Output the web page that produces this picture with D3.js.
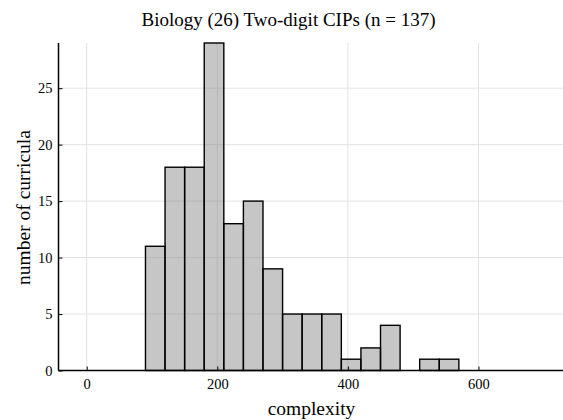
<!DOCTYPE html>
<html><head><meta charset="utf-8">
<script src="https://cdn.jsdelivr.net/npm/d3@7"></script>
<style>body{margin:0;background:#fff}svg{display:block}text{font-family:"Liberation Serif","DejaVu Serif",serif;fill:#000}</style>
</head><body><svg id="c" width="563" height="420"></svg>
<script>
const binWidth = 30;
const binStarts = [0,30,60,90,120,150,180,210,240,270,300,330,360,390,420,450,480,510,540,570,600,630,660];
const counts =    [0,0,0,11,18,18,29,13,15,9,5,5,5,1,2,4,0,1,1,0,0,0,0];
const xTicks = [0,200,400,600];
const yTicks = [0,5,10,15,20,25];
const title = "Biology (26) Two-digit CIPs (n = 137)";
const xLabel = "complexity";
const yLabel = "number of curricula";

const svg = d3.select("#c");
const L = 58.5, R = 563, T = 43, B = 370.5;
const x = d3.scaleLinear().domain([-43.2, 729.5]).range([L, R]);
const y = d3.scaleLinear().domain([0, 29]).range([B, T]);

// grid
svg.append("g").selectAll("line").data(xTicks).join("line")
  .attr("x1", d=>x(d)).attr("x2", d=>x(d)).attr("y1", T).attr("y2", B)
  .attr("stroke", "#e3e3e3").attr("stroke-width", 1);
svg.append("g").selectAll("line").data(yTicks.filter(d=>d>0)).join("line")
  .attr("x1", L).attr("x2", R).attr("y1", d=>y(d)).attr("y2", d=>y(d))
  .attr("stroke", "#e3e3e3").attr("stroke-width", 1);

// bars
svg.append("g").selectAll("rect").data(binStarts.map((s,i)=>({s, c:counts[i]}))).join("rect")
  .attr("x", d=>x(d.s)).attr("width", d=>x(d.s+binWidth)-x(d.s))
  .attr("y", d=>y(d.c)).attr("height", d=>y(0)-y(d.c))
  .attr("fill", "rgba(128,128,128,0.45)").attr("stroke", "#000").attr("stroke-width", 1.4);

// axes
const xa = svg.append("g").attr("transform", `translate(0,${B})`)
  .call(d3.axisBottom(x).tickValues(xTicks).tickSize(-4).tickPadding(8).tickFormat(d3.format("d")));
const ya = svg.append("g").attr("transform", `translate(${L},0)`)
  .call(d3.axisLeft(y).tickValues(yTicks).tickSize(-4).tickPadding(6).tickFormat(d3.format("d")));
[xa, ya].forEach(a => {
  a.select(".domain").remove();
  a.selectAll(".tick line").attr("stroke", "#000").attr("stroke-width", 1);
  a.selectAll(".tick text").attr("font-size", 14.5).attr("font-family", "Liberation Serif");
});
xa.append("line").attr("x1", L).attr("x2", R).attr("y1", 0).attr("y2", 0).attr("stroke", "#000").attr("stroke-width", 1.5);
ya.append("line").attr("x1", 0).attr("x2", 0).attr("y1", T).attr("y2", B).attr("stroke", "#000").attr("stroke-width", 1.5);

svg.append("text").attr("x", 288.5).attr("y", 26).attr("text-anchor", "middle").attr("font-size", 19).text(title);
svg.append("text").attr("x", 311.5).attr("y", 415).attr("text-anchor", "middle").attr("font-size", 19.5).text(xLabel);
svg.append("text").attr("transform", `translate(29.5,207.5) rotate(-90)`).attr("text-anchor", "middle").attr("font-size", 19.5).text(yLabel);
</script></body></html>
